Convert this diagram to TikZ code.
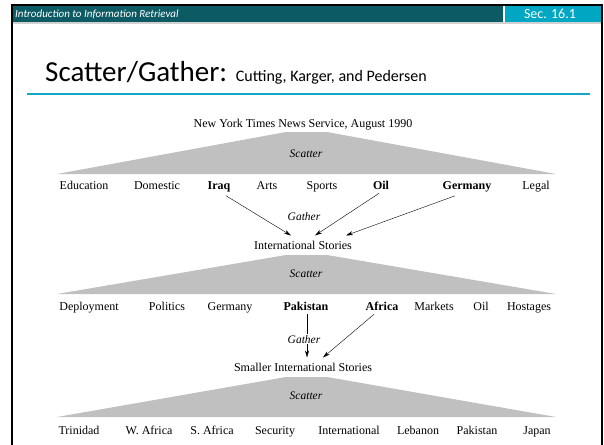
\documentclass[tikz,border=0pt]{standalone}
\usepackage{fontspec}
\setmainfont{Liberation Serif}
\newfontfamily\slidefont{Carlito}
\usetikzlibrary{arrows.meta,calc}
\definecolor{hdrdark}{HTML}{0C5B64}
\definecolor{hdrlight}{HTML}{00A7C2}
\definecolor{rulecol}{HTML}{12A7C4}
\definecolor{trapgray}{HTML}{C0C0C0}
\begin{document}
\begin{tikzpicture}[x=1pt,y=-1pt,
  word/.style={font=\fontsize{12}{14}\selectfont, inner sep=1pt, anchor=base},
  bword/.style={word, font=\fontsize{12}{14}\selectfont\bfseries},
  lbl/.style={font=\fontsize{11.5}{13}\selectfont\itshape, inner sep=1pt, anchor=base},
  glbl/.style={lbl, fill=white},
  trap/.style={fill=trapgray, draw=none},
  arr/.style={-{Stealth[length=7pt,width=4pt]}, line width=0.4pt}]
\useasboundingbox (0,0) rectangle (604,444);
\fill[white] (0,0) rectangle (604,444);
% header
\fill[hdrdark] (12,5) rectangle (503,22);
\fill[hdrlight] (505,5) rectangle (602,22);
\fill[black!18] (12,22) rectangle (602,24);
\node[anchor=west, text=white, font=\slidefont\fontsize{11}{13}\selectfont\itshape, inner sep=0pt] (hdr) at (15,14) {Introduction to Information Retrieval};
\node[text=white, font=\slidefont\fontsize{14}{16}\selectfont, inner sep=0pt] (sec) at (550,14) {Sec. 16.1};
% frame
\draw[black, line width=2pt] (12,446) -- (12,5) -- (602,5) -- (602,446);
% title
\node[anchor=base west, inner sep=0pt, font=\slidefont] (title) at (45,81) {\fontsize{29}{32}\selectfont Scatter/Gather: \fontsize{16}{18}\selectfont Cutting, Karger, and Pedersen};
\draw[rulecol, line width=2.5pt] (27,94) -- (590,94);
% level 0
\node[word] (nyt) at (303,127) {New York Times News Service, August 1990};
\fill[trap] (286,132) -- (327,132) -- (556,174) -- (57,174) -- cycle;
\node[lbl] (sc1) at (306,157) {Scatter};
% row 1
\node[word] (edu) at (84,189) {Education};
\node[bword] (iraq) at (219,189) {Iraq};
\node[word] (dom) at (157,189) {Domestic};
\node[word] (arts) at (267,189) {Arts};
\node[word] (sports) at (322,189) {Sports};
\node[bword] (oil) at (381,189) {Oil};
\node[bword] (ger) at (467,189) {Germany};
\node[word] (legal) at (536,189) {Legal};
\node[lbl] (g1) at (304,220) {Gather};
\node[word] (intl) at (303,249) {International Stories};
\draw[arr] ($(iraq.south)+(7,3)$) -- ($(intl.north)+(-12,-4)$);
\draw[arr] ($(oil.south)+(-2,3)$) -- ($(intl.north)+(12,-4)$);
\draw[arr] ($(ger.south)+(-12,3)$) -- ($(intl.north)+(43,-4)$);
% level 2
\fill[trap] (286,255) -- (327,255) -- (556,294) -- (57,294) -- cycle;
\node[lbl] (sc2) at (306,277) {Scatter};
\node[word] (depl) at (89,310) {Deployment};
\node[word] (pol) at (167,310) {Politics};
\node[word] (ger2) at (230,310) {Germany};
\node[bword] (pak) at (306,310) {Pakistan};
\node[bword] (afr) at (382,310) {Africa};
\node[word] (mkt) at (434,310) {Markets};
\node[word] (oil2) at (481,310) {Oil};
\node[word] (host) at (529,310) {Hostages};
\node[word] (small) at (303,371) {Smaller International Stories};
\draw[arr] ($(pak.south)+(1,3)$) -- ($(small.north)+(4,-4)$);
\draw[arr] ($(afr.south)+(-8,3)$) -- ($(small.north)+(20,-4)$);
\node[glbl] (g2) at (304,343) {Gather};
% level 3
\fill[trap] (286,377) -- (327,377) -- (556,417) -- (57,417) -- cycle;
\node[lbl] (sc3) at (306,399) {Scatter};
\node[word] (trin) at (79,434) {Trinidad};
\node[word] (waf) at (149,434) {W. Africa};
\node[word] (saf) at (212,434) {S. Africa};
\node[word] (sec3) at (275,434) {Security};
\node[word] (intl3) at (349,434) {International};
\node[word] (leb) at (418,434) {Lebanon};
\node[word] (pak3) at (477,434) {Pakistan};
\node[word] (jap) at (537,434) {Japan};
\end{tikzpicture}
\end{document}
